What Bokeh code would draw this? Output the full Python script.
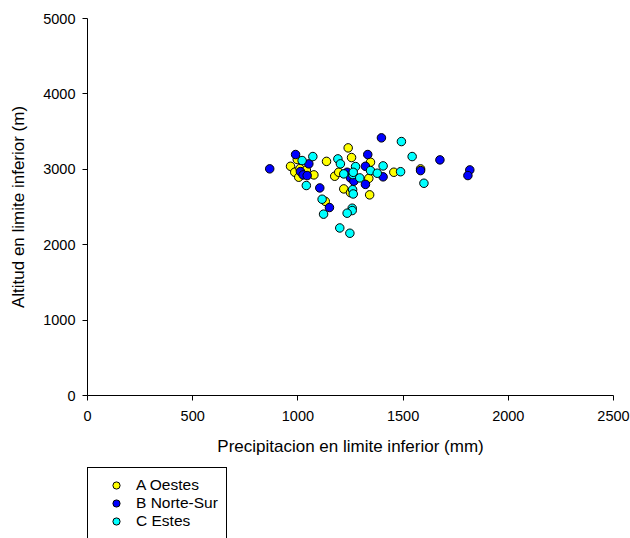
from bokeh.plotting import figure
from bokeh.models import Range1d, Legend, LegendItem, FixedTicker
from bokeh.layouts import column
from bokeh.embed import file_html
from bokeh.resources import INLINE

# Data (precipitation mm, altitude m)
a_x = [965, 985, 997, 1004, 1010, 1040, 1076, 1136, 1130, 1175, 1194, 1218, 1239, 1255, 1250, 1337, 1345, 1341, 1456, 1583]
a_y = [3040, 2961, 3130, 2895, 3010, 2990, 2926, 3105, 2575, 2908, 2961, 2740, 3284, 3156, 2690, 2880, 3094, 2661, 2961, 3005]

b_x = [866, 989, 1012, 1025, 1044, 1052, 1104, 1150, 1234, 1250, 1266, 1321, 1332, 1321, 1397, 1405, 1583, 1675, 1817, 1808]
b_y = [3006, 3196, 2970, 2926, 2917, 3072, 2753, 2493, 2961, 2886, 2842, 3040, 3196, 2800, 3417, 2900, 2983, 3125, 2992, 2917]

c_x = [1020, 1071, 1040, 1115, 1122, 1190, 1202, 1218, 1261, 1274, 1294, 1345, 1377, 1405, 1488, 1492, 1543, 1599,
       1260, 1263, 1258, 1258, 1234, 1199, 1247, 1263]
c_y = [3116, 3169, 2785, 2603, 2405, 3138, 3072, 2939, 2930, 3036, 2886, 2983, 2948, 3045, 2968, 3368, 3169, 2815,
       2730, 2673, 2484, 2453, 2418, 2222, 2152, 2960]

series_names = ["A Oestes", "B Norte-Sur", "C Estes"]
series_colors = ["#FFFF00", "#0000FF", "#00FFFF"]
x_ticks = [0, 500, 1000, 1500, 2000, 2500]
y_ticks = [0, 1000, 2000, 3000, 4000, 5000]

FONT = "Liberation Sans"
series = [(a_x, a_y), (b_x, b_y), (c_x, c_y)]

# ---- main scatter plot ----
p = figure(width=630, height=462, output_backend="svg", toolbar_location=None,
           x_range=Range1d(0, 2500), y_range=Range1d(0, 5000),
           min_border_left=87, min_border_right=17, min_border_top=18, min_border_bottom=67)
p.outline_line_color = None
p.xgrid.visible = False
p.ygrid.visible = False
p.background_fill_color = "white"
p.border_fill_color = "white"

for ax in (p.xaxis[0], p.yaxis[0]):
    ax.axis_line_color = "black"
    ax.major_tick_line_color = "black"
    ax.minor_tick_line_color = None
    ax.major_tick_out = 5
    ax.major_tick_in = 0
    ax.major_label_text_font = FONT
    ax.major_label_text_font_size = "14.5px"
    ax.major_label_text_color = "black"
    ax.axis_label_text_font = FONT
    ax.axis_label_text_font_size = "17px"
    ax.axis_label_text_font_style = "normal"
    ax.axis_label_text_color = "black"

p.xaxis.ticker = FixedTicker(ticks=x_ticks)
p.yaxis.ticker = FixedTicker(ticks=y_ticks)
p.xaxis.axis_label = "Precipitacion en limite inferior (mm)"
p.yaxis.axis_label = "Altitud en limite inferior (m)"
p.xaxis.major_label_standoff = 10
p.yaxis.major_label_standoff = 7
p.xaxis.axis_label_standoff = 13
p.yaxis.axis_label_standoff = 12

for (xs, ys), col in zip(series, series_colors):
    p.scatter(xs, ys, size=8.5, fill_color=col, line_color="black", line_width=1)

# ---- legend strip below (same series, drawn off-view so only the legend shows) ----
q = figure(width=630, height=76, output_backend="svg", toolbar_location=None,
           x_range=Range1d(0, 1), y_range=Range1d(0, 1),
           x_axis_location=None, y_axis_location=None,
           min_border_left=0, min_border_right=0, min_border_top=0, min_border_bottom=0)
q.outline_line_color = None
q.xgrid.visible = False
q.ygrid.visible = False
q.border_fill_color = "white"

items = []
for (xs, ys), col, name in zip(series, series_colors, series_names):
    r = q.scatter(xs, ys, size=8.5, fill_color=col, line_color="black", line_width=1)
    items.append(LegendItem(label=name, renderers=[r]))

legend = Legend(items=items, location=(0, -1), orientation="vertical",
                border_line_color="black", border_line_width=1, border_line_alpha=1,
                background_fill_color="white", background_fill_alpha=1,
                label_text_font=FONT, label_text_font_size="15.5px", label_text_color="black",
                glyph_width=40, glyph_height=18, label_height=18,
                label_standoff=0, padding=8, spacing=0, margin=0)
q.add_layout(legend, "center")

open("out.html", "w").write(file_html(column(p, q, spacing=0), INLINE))
